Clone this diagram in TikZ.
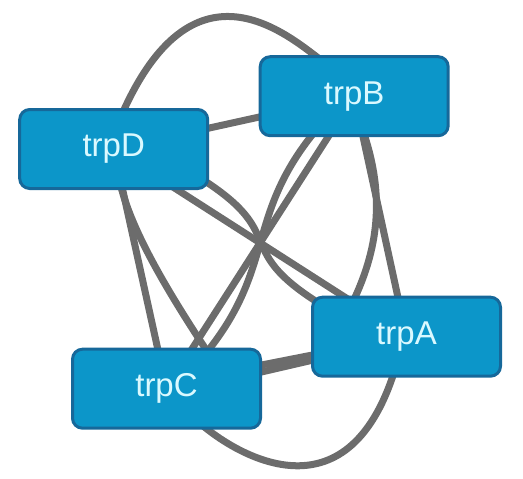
\documentclass[tikz,border=0pt]{standalone}
\usepackage{fontspec}
\setmainfont{Liberation Sans}
\usetikzlibrary{backgrounds}

\definecolor{genefill}{RGB}{12,150,201}
\definecolor{geneline}{RGB}{22,104,154}
\definecolor{genetext}{RGB}{218,249,255}
\definecolor{linkgray}{RGB}{108,108,108}

\tikzset{
    gene/.style={draw=geneline, line width=1.5pt, fill=genefill, rounded corners=5pt,
        minimum width=94pt, minimum height=39.5pt, text=genetext,
        font=\fontsize{16.5}{19.8}\selectfont},
    link/.style={draw=linkgray, line width=3.5pt, shorten <=-4pt, shorten >=-4pt}
}

\begin{document}
\begin{tikzpicture}[x=0.5pt, y=-0.5pt]
    \useasboundingbox (0,0) rectangle (523,478);

    % Genes
    \node[gene] (trpD) at (113.7,149) {trpD};
    \node[gene] (trpB) at (354.2,96.2) {trpB};
    \node[gene] (trpA) at (406.5,336.7) {trpA};
    \node[gene] (trpC) at (166.5,388.7) {trpC};

    \begin{scope}[on background layer]
        % Straight links
        \draw[link] (trpD) -- (trpB);
        \draw[link] (trpD) -- (trpC);
        \draw[link] (trpD) -- (trpA);
        \draw[link] (trpB) -- (trpC);
        \draw[link] (trpB) -- (trpA);
        \draw[link] (trpC.14) -- (trpA.-169);
        \draw[link] (trpC.10) -- (trpA.-166);

        % Curved links
        \draw[link] (trpD.75) .. controls (192,-45) and (283,31) .. (trpB.134);
        \draw[link] (trpD.-79) .. controls (129.3,223) and (157,275.7) .. (trpC.47);
        \draw[link] (trpD.-20) .. controls (289,235) and (232,248) .. (trpA.158);
        \draw[link] (trpB.-137) .. controls (245,217) and (276,267) .. (trpC.43);
        \draw[link] (trpB.-75) .. controls (383.7,190.3) and (381,243.7) .. (trpA.141);
        \draw[link] (trpC.-45) .. controls (234.6,452.8) and (346.5,524) .. (trpA.-109);
    \end{scope}
\end{tikzpicture}
\end{document}
